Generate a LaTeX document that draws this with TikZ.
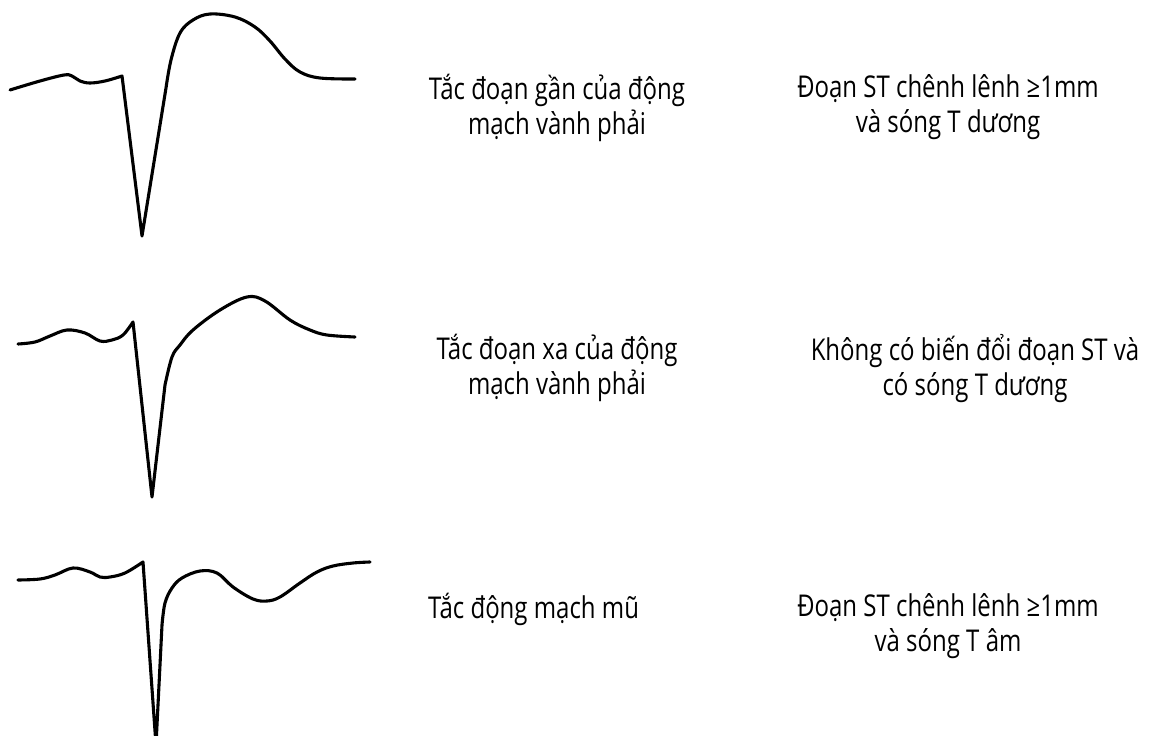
\documentclass[tikz,border=0pt]{standalone}
\usepackage{fontspec}
\setmainfont{Open Sans}[FakeStretch=0.8]
\usetikzlibrary{positioning}
\tikzset{
  ecg/.style={line width=3.1pt, line join=round, line cap=round},
  txt/.style={align=center, inner sep=0pt, font=\fontsize{30}{35}\selectfont}
}
\begin{document}
\begin{tikzpicture}[x=1pt, y=-1pt]
	\useasboundingbox[fill=white] (0,0) rectangle (1157,736);
	% tac doan gan
	\draw[ecg] plot[smooth, tension=0.6] coordinates {(10,90) (40,81) (64,75) (72,76) (80,81) (90,83) (105,81) (122,76)}
		-- (142,236) -- (166,88)
		-- plot[smooth, tension=0.6] coordinates {(166,88) (171,60) (180,33) (193,20) (210,14) (235,17) (255,27) (270,41) (285,59) (300,72) (320,78) (355,79)};
	% tac doan xa
	\draw[ecg] plot[smooth, tension=0.6] coordinates {(18,344) (35,342) (50,336) (67,330) (85,333) (100,341) (112,340) (123,335) (133,322)}
		-- (152,497) -- (165,385)
		-- plot[smooth, tension=0.6] coordinates {(165,385) (172,357) (180,345) (193,330) (220,310) (247,297) (265,301) (290,320) (310,330) (327,335) (355,337)};
	% tac dong mach mu
	\draw[ecg] plot[smooth, tension=0.6] coordinates {(18,580) (40,579) (55,575) (73,568) (90,572) (100,577) (110,577) (125,573) (143,562)}
		-- (156,745) -- (162,625)
		-- plot[smooth, tension=0.6] coordinates {(162,625) (165,603) (172,588) (182,578) (200,571) (217,573) (233,587) (253,599) (267,601) (280,597) (300,583) (317,572) (333,566) (353,563) (370,562)};

	\node[txt, anchor=north] (rcaprox) at (557,74) {Tắc đoạn gần của động\\mạch vành phải};
	\node[txt, anchor=north] (rcaproxst) at (948,74) {Đoạn ST chênh lênh ≥1mm\\và sóng T dương};
	\node[txt, anchor=north] (rcadist) at (557,334) {Tắc đoạn xa của động\\mạch vành phải};
	\node[txt, anchor=north] (rcadistst) at (975,334) {Không có biến đổi đoạn ST và\\có sóng T dương};
	\node[txt, anchor=north west] (lcx) at (428,593) {Tắc động mạch mũ};
	\node[txt, anchor=north] (lcxst) at (948,593) {Đoạn ST chênh lênh ≥1mm\\và sóng T âm};
\end{tikzpicture}
\end{document}
